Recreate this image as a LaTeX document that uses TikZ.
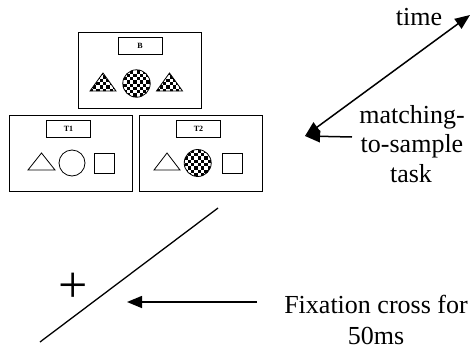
\documentclass[tikz,border=0pt]{standalone}
\usepackage{fontspec}
\setmainfont{Liberation Serif}
\usetikzlibrary{arrows.meta}
\newcommand\chkfill[3]{%
  \begin{scope}
    \clip #1;
    \foreach \i in {-5,...,4}{\foreach \j in {-5,...,4}{%
      \pgfmathtruncatemacro\k{mod(\i+\j+20,2)}%
      \ifnum\k=0 \fill ({#2+\i*3.3},{#3+\j*3.3}) rectangle ++(3.3,3.3);\fi}}
  \end{scope}
  \draw[shp] #1;}
\begin{document}
\begin{tikzpicture}[x=1pt,y=-1pt,
  panel/.style={draw, line width=0.9pt, minimum width=123pt, minimum height=76pt, inner sep=0pt},
  lbl/.style={draw, line width=0.9pt, minimum width=44pt, minimum height=17pt, inner sep=0pt, font=\fontsize{8}{9}\selectfont\bfseries},
  txt/.style={font=\fontsize{26}{30}\selectfont, inner sep=0pt, anchor=base},
  shp/.style={line width=0.8pt},
  arr/.style={line width=1.5pt, -{Triangle[length=15pt,width=12pt]}}
]
\useasboundingbox (0,0) rectangle (471,351);

% panels
\node[panel] (pB) at (139.5,70) {};
\node[lbl] (lB) at (140,45.5) {B};
\node[panel] (pT1) at (70.5,153.5) {};
\node[lbl] (lT1) at (68.5,128.5) {T1};
\node[panel] (pT2) at (200.5,153.5) {};
\node[lbl] (lT2) at (198.5,128.5) {T2};

% B shapes
\chkfill{(90,91)--(103,73)--(116,91)--cycle}{103}{82}
\chkfill{(136.5,83.5) circle (13.7)}{136.5}{83.5}
\chkfill{(156.5,91)--(169.5,73)--(182.5,91)--cycle}{169.5}{82}

% T1 shapes
\draw[shp] (28,170)--(41.5,153)--(55,170)--cycle;
\draw[shp] (72,163) circle (13);
\draw[shp] (94,153) rectangle (114,173);

% T2 shapes
\draw[shp] (154,170)--(167,153)--(180,170)--cycle;
\chkfill{(197.7,163) circle (13.5)}{197.7}{163}
\draw[shp] (222,153) rectangle (242,173);

% time arrow
\coordinate (tA) at (305,136);
\coordinate (tB) at (470,15);
\draw[line width=1.5pt, {Triangle[length=15pt,width=12pt]}-{Triangle[length=15pt,width=12pt]}] (tA) -- (tB);
\node[txt] (time) at (419,25) {time};

\node[txt] (m1) at (412,123) {matching-};
\node[txt] (m2) at (412,152) {to-sample};
\node[txt] (m3) at (411,182) {task};
\coordinate (ms) at (352,137);
\draw[arr] (ms) -- (tA);

% fixation
\coordinate (fL) at (40,342);
\coordinate (fU) at (218,208);
\draw[line width=1.3pt] (fL) -- (fU);
\node[inner sep=0pt, font=\fontsize{52}{52}\selectfont] (plus) at (73,288) {+};
\node[txt] (f1) at (376,313) {Fixation cross for};
\node[txt] (f2) at (376,344) {50ms};
\coordinate (fs) at (257,302);
\coordinate (fe) at (127,302);
\draw[arr] (fs) -- (fe);
\end{tikzpicture}
\end{document}
